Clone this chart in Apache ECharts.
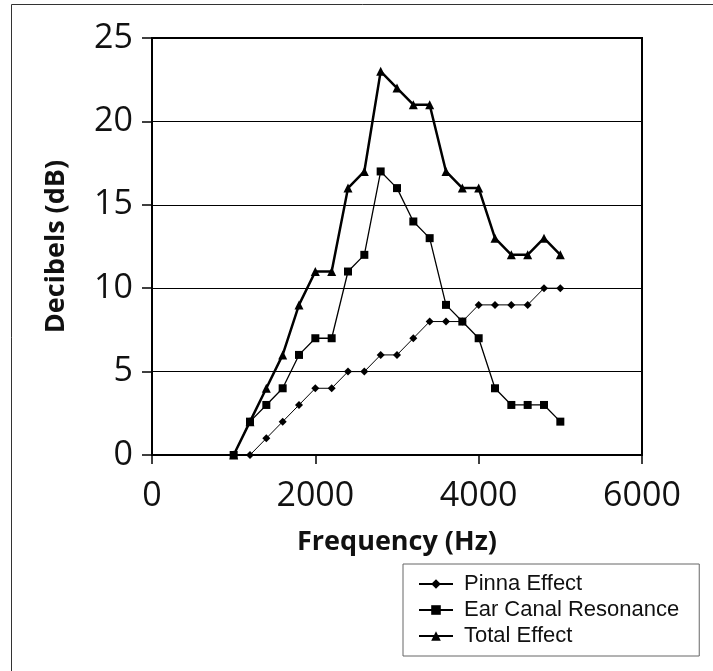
<!DOCTYPE html>
<html>
<head>
<meta charset="utf-8">
<script src="https://cdn.jsdelivr.net/npm/echarts@6/dist/echarts.min.js"></script>
<style>
  html, body { margin: 0; padding: 0; background: #fff; }
  #chart { width: 713px; height: 671px; }
</style>
</head>
<body>
<div id="chart"></div>
<script>
// 频率 (Hz)
var freqEar = [1000, 1200, 1400, 1600, 1800, 2000, 2200, 2400, 2600, 2800, 3000,
  3200, 3400, 3600, 3800, 4000, 4200, 4400, 4600, 4800, 5000];
var freqPinna = [1200, 1400, 1600, 1800, 2000, 2200, 2400, 2600, 2800, 3000,
  3200, 3400, 3600, 3800, 4000, 4200, 4400, 4600, 4800, 5000];
// dB
var pinnaEffect = [0, 1, 2, 3, 4, 4, 5, 5, 6, 6, 7, 8, 8, 8, 9, 9, 9, 9, 10, 10];
var earCanal = [0, 2, 3, 4, 6, 7, 7, 11, 12, 17, 16, 14, 13, 9, 8, 7, 4, 3, 3, 3, 2];
var totalEffect = [0, 2, 4, 6, 9, 11, 11, 16, 17, 23, 22, 21, 21, 17, 16, 16, 13, 12, 12, 13, 12];
var xTicks = [0, 2000, 4000, 6000];
var yTicks = [0, 5, 10, 15, 20, 25];

function pairs (xs, ys) {
  return xs.map(function (x, i) { return [x, ys[i]]; });
}

var chart = echarts.init(document.getElementById('chart'));
var axisFont = '"Open Sans", "DejaVu Sans", sans-serif';

var option = {
  backgroundColor: '#fff',
  animation: false,
  // 外框
  graphic: [{
    type: 'polyline',
    shape: { points: [[11.5, 671], [11.5, 4.5], [713, 4.5]] },
    style: { stroke: '#333', lineWidth: 1, fill: null }
  }],
  grid: {
    left: 152, right: 71, top: 38, bottom: 216,
    show: true, borderColor: '#000', borderWidth: 2
  },
  legend: {
    orient: 'vertical',
    left: 403, top: 564,
    padding: [9, 20, 9, 15],
    borderColor: '#666', borderWidth: 1,
    itemWidth: 34, itemHeight: 12, itemGap: 4,
    textStyle: { fontFamily: '"Liberation Sans", Arial, sans-serif', fontSize: 22, color: '#111', lineHeight: 20, padding: [0, 0, 0, 6] },
    data: ['Pinna Effect', 'Ear Canal Resonance', 'Total Effect']
  },
  xAxis: {
    type: 'value', min: xTicks[0], max: xTicks[xTicks.length - 1], interval: 2000,
    name: 'Frequency (Hz)', nameLocation: 'middle', nameGap: 74,
    nameTextStyle: { fontFamily: axisFont, fontWeight: 'bold', fontSize: 27, color: '#111' },
    axisLine: { lineStyle: { color: '#000', width: 2 } },
    axisTick: { show: true, length: 9, lineStyle: { color: '#000', width: 1.5 } },
    axisLabel: { fontFamily: axisFont, fontSize: 34, color: '#111', margin: 24,
      formatter: function (v) { return String(v); } },
    splitLine: { show: false }
  },
  yAxis: {
    type: 'value', min: yTicks[0], max: yTicks[yTicks.length - 1], interval: 5,
    name: 'Decibels (dB)', nameLocation: 'middle', nameGap: 82, nameRotate: 90,
    nameTextStyle: { fontFamily: axisFont, fontWeight: 'bold', fontSize: 27, color: '#111' },
    axisLine: { lineStyle: { color: '#000', width: 2 } },
    axisTick: { show: true, length: 10, lineStyle: { color: '#000', width: 1.5 } },
    axisLabel: { fontFamily: axisFont, fontSize: 34, color: '#111', margin: 19 },
    splitLine: { show: true, lineStyle: { color: '#000', width: 1.2 } }
  },
  series: [
    {
      name: 'Pinna Effect', type: 'line',
      data: pairs(freqPinna, pinnaEffect),
      symbol: 'diamond', symbolSize: 8,
      itemStyle: { color: '#000' },
      lineStyle: { color: '#000', width: 1 }
    },
    {
      name: 'Ear Canal Resonance', type: 'line',
      data: pairs(freqEar, earCanal),
      symbol: 'rect', symbolSize: 8,
      itemStyle: { color: '#000' },
      lineStyle: { color: '#000', width: 1.3 }
    },
    {
      name: 'Total Effect', type: 'line',
      data: pairs(freqEar, totalEffect),
      symbol: 'triangle', symbolSize: 9,
      itemStyle: { color: '#000' },
      lineStyle: { color: '#000', width: 2.5 }
    }
  ]
};

chart.setOption(option);
window.addEventListener('resize', function () { chart.resize(); });
</script>
</body>
</html>
